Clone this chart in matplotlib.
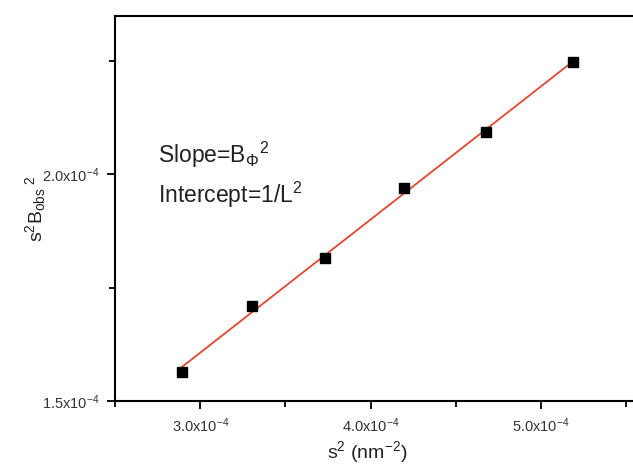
import numpy as np
import matplotlib
matplotlib.use('Agg')
import matplotlib.pyplot as plt
from matplotlib.ticker import MultipleLocator, FuncFormatter

plt.rcParams['font.family'] = ['Liberation Sans', 'DejaVu Sans']
plt.rcParams['mathtext.fontset'] = 'custom'
plt.rcParams['mathtext.rm'] = 'Liberation Sans'
plt.rcParams['mathtext.it'] = 'Liberation Sans:italic'
plt.rcParams['mathtext.bf'] = 'Liberation Sans:bold'

# s^2 (nm^-2) and s^2 B_obs^2
s2 = [2.894e-4, 3.303e-4, 3.735e-4, 4.195e-4, 4.677e-4, 5.189e-4]
s2B2 = [1.564e-4, 1.709e-4, 1.816e-4, 1.969e-4, 2.093e-4, 2.246e-4]

# linear fit through the points
slope, icpt = np.polyfit(s2, s2B2, 1)
xfit = np.array([s2[0], s2[-1]])
yfit = slope * xfit + icpt

fig = plt.figure(figsize=(6.33, 4.66), dpi=100)
ax = fig.add_axes([115 / 633, 65 / 466, 1 - 115 / 633, (401 - 15.7) / 466])

ax.plot(xfit, yfit, color='#e8452c', lw=1.3, zorder=2)
ax.plot(s2, s2B2, 's', color='black', ms=6.5, zorder=3)

ax.set_xlim(2.5e-4, 5.54e-4)
ax.set_ylim(1.5e-4, 2.349e-4)


def sci(v, pos):
    return r'%.1fx10$^{\mathregular{-4}}$' % (v * 1e4)


ax.xaxis.set_major_locator(MultipleLocator(1e-4))
ax.xaxis.set_minor_locator(MultipleLocator(0.5e-4))
ax.yaxis.set_major_locator(MultipleLocator(0.5e-4))
ax.yaxis.set_minor_locator(MultipleLocator(0.25e-4))
ax.xaxis.set_major_formatter(FuncFormatter(sci))
ax.yaxis.set_major_formatter(FuncFormatter(sci))

ax.tick_params(which='both', direction='out', width=1.3, labelsize=10.5,
               labelcolor='#333333', top=False, right=False)
ax.tick_params(which='major', length=6, pad=5)
ax.tick_params(which='minor', length=4)

for side in ['left', 'bottom', 'top']:
    ax.spines[side].set_linewidth(1.5)
ax.spines['right'].set_visible(False)

ax.set_xlabel(r'$\mathregular{s^2\ (nm^{-2})}$', fontsize=14, color='#222222')
ax.set_ylabel(r'$\mathregular{s^2B_{obs}{}^{\ 2}}$', fontsize=14, color='#222222')
ax.xaxis.set_label_coords((367 - 115) / (633 - 115), -0.098)
ax.yaxis.set_label_coords(-0.13, 0.5)

fig.text(158 / 633, 1 - 163 / 466, r'Slope=B$_{\mathregular{\Phi}}{}^{\mathregular{2}}$',
         fontsize=16.5, va='baseline', color='#222222')
fig.text(158 / 633, 1 - 203 / 466, r'Intercept=1/L$^{\mathregular{2}}$',
         fontsize=16.5, va='baseline', color='#222222')

fig.savefig('out.png', dpi=100)
